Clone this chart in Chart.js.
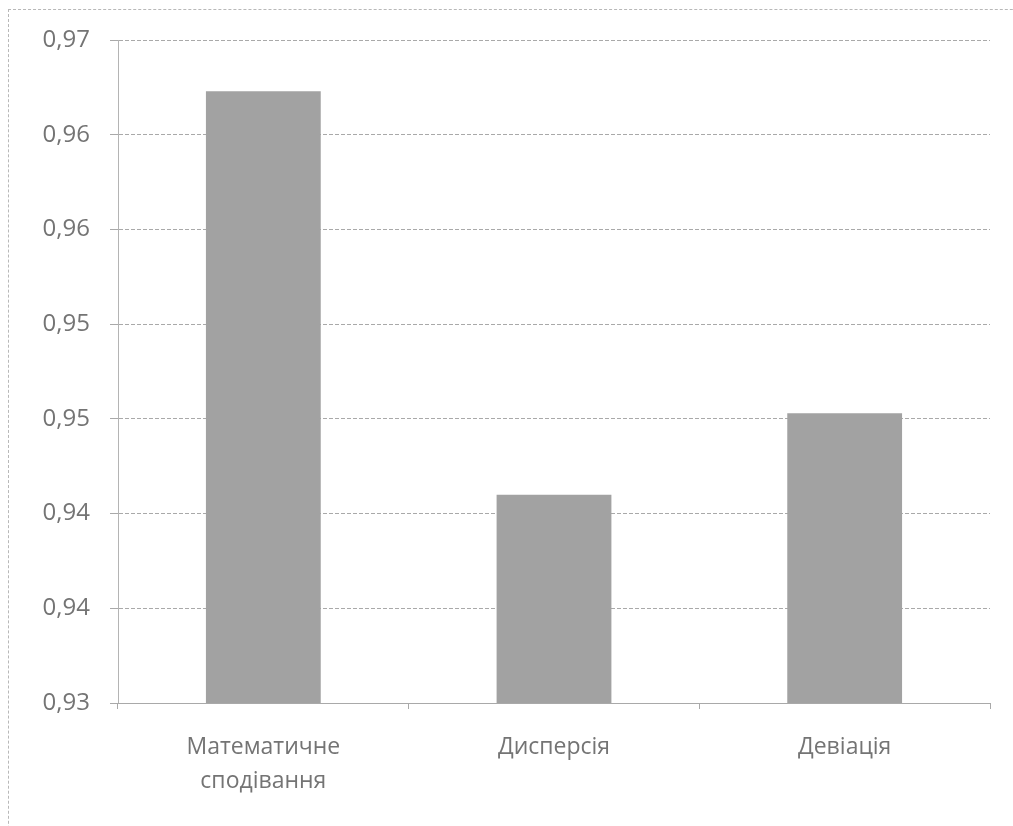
<!DOCTYPE html>
<html>
<head>
<meta charset="utf-8">
<script src="https://cdn.jsdelivr.net/npm/chart.js@4.4.1/dist/chart.umd.min.js"></script>
<style>
  html, body { margin: 0; padding: 0; background: #ffffff; }
  #wrap { position: relative; width: 1013px; height: 826px; overflow: hidden; }
  #frame { position: absolute; left: 8px; top: 9px; width: 1100px; height: 900px;
           border: 1px dashed #b8b8b8; box-sizing: border-box; }
  canvas { position: absolute; left: 0; top: 0; }
</style>
</head>
<body>
<div id="wrap">
  <div id="frame"></div>
  <canvas id="c" width="1013" height="826"></canvas>
</div>
<script>
// Categories and values
const categories = [["Математичне", "сподівання"], "Дисперсія", "Девіація"];
const values = [0.9623, 0.9410, 0.9453];

// Value axis: tick positions and their printed labels (two decimals, comma)
const yTickValues = [0.930, 0.935, 0.940, 0.945, 0.950, 0.955, 0.960, 0.965];
const yTickLabels = ["0,93", "0,94", "0,94", "0,95", "0,95", "0,96", "0,96", "0,97"];

const textColor = "#747474";
const gridColor = "#a9a9a9";
const fontFamily = "'Open Sans', 'Noto Sans', sans-serif";

new Chart(document.getElementById("c"), {
  type: "bar",
  data: {
    labels: categories,
    datasets: [{
      data: values,
      backgroundColor: "#a2a2a2",
      borderWidth: 0,
      categoryPercentage: 1,
      barPercentage: 0.395
    }]
  },
  options: {
    responsive: false,
    animation: false,
    devicePixelRatio: 1,
    layout: { padding: { top: 40, right: 23, bottom: 0, left: 0 } },
    plugins: { legend: { display: false }, tooltip: { enabled: false } },
    scales: {
      y: {
        min: 0.93,
        max: 0.965,
        afterBuildTicks: (scale) => { scale.ticks = yTickValues.map(v => ({ value: v })); },
        afterFit: (scale) => { scale.width = 118; },
        ticks: {
          color: textColor,
          font: { family: fontFamily, size: 24 },
          padding: 20,
          callback: (v, i) => yTickLabels[i]
        },
        grid: { color: gridColor, lineWidth: 1, tickLength: 8, drawTicks: true },
        border: { display: true, color: "#b4b4b4", dash: [4, 2] }
      },
      x: {
        afterFit: (scale) => { scale.height = 123; },
        ticks: {
          color: textColor,
          font: { family: fontFamily, size: 23, lineHeight: 1.5 },
          padding: 21
        },
        grid: { display: true, drawOnChartArea: false, drawTicks: true, tickLength: 6, color: gridColor, offset: true },
        border: { display: true, color: gridColor }
      }
    }
  }
});
</script>
</body>
</html>
